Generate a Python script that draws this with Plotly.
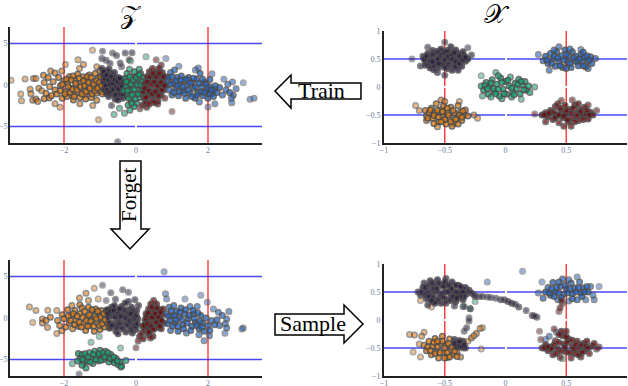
"""Latent space / data space scatter panels with train, forget and sample arrows"""

import plotly.graph_objects as go

ORANGE = '#e07a10'
DARK = '#2a1a40'
TEAL = '#0fa874'
RED = '#6e0508'
BLUE = '#1f64c8'

# Top left panel, latent space after training
z_orange = [(-3.47, .56), (-3.08, .73), (-3.2, -1.1), (-3.18, -1.9), (-2.94, -.5), (-2.85, .77), (-2.78, .77),
            (-2.92, -1.05), (-2.87, -1.85), (-2.78, -1.7), (-2.73, -2), (-2.57, 1.17), (-2.37, 1.7), (-2.25, 1.45),
            (-2.06, 1.7), (-1.96, 2.46), (-2.11, -2.7), (-2.25, -2.25), (-1.61, 3.06), (-1.46, 2.46), (-1.21, 4.2),
            (-1.04, -4.2), (-1.2, -2.46), (-1.56, -2.25), (-1.09, -1.85), (-1.57, 2), (-1.09, 2.2), (-2.55, -1.65),
            (-2.41, -1.57), (-2.7, -.4), (-2.62, -.7), (-2.55, .3), (-2.5, -1), (-2.44, .9), (-2.4, -.2), (-2.35, -1.3),
            (-2.3, .4), (-2.25, -.6), (-2.2, -1.1), (-2.15, .9), (-2.1, -.1), (-2.05, -1.6), (-2, .5), (-1.97, -.8),
            (-1.92, -1.4), (-1.9, .2), (-1.85, 1), (-1.82, -.4), (-1.78, -1.2), (-1.74, -1.8), (-1.7, .6), (-1.66, -.1),
            (-1.62, 1.3), (-1.6, -.9), (-1.56, -1.5), (-1.52, .3), (-1.48, 1), (-1.45, -.5), (-1.42, -1.2), (-1.38, .7),
            (-1.34, -.1), (-1.3, 1.2), (-1.27, -.8), (-1.24, -1.5), (-1.2, .4), (-1.17, -.4), (-1.13, 1.4), (-1.1, -1),
            (-1.06, .8), (-1.03, -.2), (-1, 1.7), (-.97, -.8), (-.94, .5), (-.92, -.3), (-1.75, 1.1), (-1.4, -1.7),
            (-2.1, -.7), (-2.05, .1), (-1.98, -1.1), (-1.93, .7), (-1.88, -.2), (-1.83, -.9), (-1.8, .6), (-1.76, -.5),
            (-1.72, -1.4), (-1.68, .2), (-1.64, -.6), (-1.58, .8), (-1.54, -.2), (-1.5, -1.1), (-1.46, .5), (-1.43, -.1),
            (-1.39, -.8), (-1.36, 1), (-1.32, .3), (-1.28, -.4), (-1.25, .9), (-1.22, -1.1), (-1.18, .1), (-1.14, -.7),
            (-1.1, .5), (-1.07, -.4), (-1.02, .3), (-.98, 1), (-.96, -.1), (-.93, -1.1)]
z_dark = [(-.93, 4.07), (-.65, 3.87), (-.54, 3.55), (-.3, 3.87), (-.11, 3.9), (-.95, 3.2), (-.83, 3), (-.72, 2.6),
          (-.44, 2.66), (-.19, 3.06), (-.4, 2.2), (-.68, -2.46), (-.51, -6.85), (-.95, 2), (-.92, 1.2), (-.9, .4),
          (-.88, -.5), (-.85, 1.7), (-.83, -1), (-.8, .9), (-.78, .1), (-.76, -1.4), (-.72, 1.4), (-.7, -.4),
          (-.68, .5), (-.65, -1.1), (-.62, 1), (-.6, -.1), (-.58, -1.7), (-.55, .3), (-.52, -.8), (-.5, .9),
          (-.47, -1.3), (-.44, 0), (-.42, .6), (-.4, -.6), (-.37, -1.6), (-.35, .2), (-.32, -1), (-.3, .7),
          (-.28, -.3), (-.25, -1.3), (-.23, .2), (-.75, 1.9), (-.6, 1.5), (-.5, -1.8), (-.2, -.8),
          (-.9, 1.6), (-.87, .8), (-.85, -.1), (-.82, 1.2), (-.8, -.6), (-.77, .5), (-.74, -.9), (-.72, .1), (-.69, 1),
          (-.67, -.7), (-.64, .2), (-.62, -.5), (-.59, .6), (-.57, -1.2), (-.54, -.3), (-.51, .4), (-.48, -.5), (-.45, .8),
          (-.43, -1.1), (-.41, .1), (-.38, -.2), (-.36, -1.1), (-.33, .4), (-.31, -.5), (-.28, .3), (-.26, -.8), (-.24, -.1)]
z_teal = [(-.15, 2.9), (.28, 3.4), (-.61, -3.55), (-.46, -2.8), (-.32, -3.4), (-.17, -3.06), (.09, 1.9), (-.3, .8),
          (-.28, -.2), (-.25, 1.4), (-.22, -1.2), (-.2, .3), (-.18, 1.9), (-.15, -.6), (-.13, -1.8), (-.1, .9),
          (-.08, -.1), (-.05, 1.6), (-.03, -1.1), (0, .4), (.02, -2.2), (.04, 1.1), (.06, -.5), (.08, -1.5),
          (.1, .6), (.13, 1.4), (.15, -.1), (.17, -1), (.2, .9), (-.22, -2.4), (-.05, -2.6), (-.35, -.7),
          (-.27, .4), (-.24, -.7), (-.2, -1.6), (-.17, 1), (-.14, .1), (-.11, -1.2), (-.08, .6), (-.05, -.5), (-.02, -1.7),
          (.01, .9), (.03, 0), (.06, -1.1), (.09, 1.2), (.12, .1), (.15, -.7), (.18, .4), (-.12, -2.2)]
z_red = [(.56, 3.06), (.7, 2.4), (1, -3.2), (.11, -2.86), (.18, -2.4), (.2, -.8), (.22, -1.6), (.25, .2), (.27, -2.1),
         (.3, 1), (.32, -.3), (.34, -1.2), (.37, 1.6), (.39, .5), (.41, -.8), (.43, -1.8), (.46, 2), (.48, .9),
         (.5, -.2), (.52, -1.3), (.55, 1.5), (.57, .3), (.59, -.7), (.61, -1.9), (.64, 2), (.66, .8), (.68, -.2),
         (.7, -1.2), (.73, 1.5), (.75, .4), (.77, -.6), (.8, -1.6), (.82, 1), (.84, 0), (.3, -2.7), (.6, -2.3),
         (.24, -.4), (.28, -1.5), (.31, .4), (.35, -.7), (.38, 1), (.42, .1), (.45, -1.1), (.47, 1.4), (.51, .4),
         (.54, -.8), (.56, 1), (.6, -.1), (.63, -1.3), (.65, 1.4), (.69, .3), (.72, -.6), (.76, 1), (.79, -.1), (.5, -2.1), (.37, -2.3)]
z_blue = [(.83, 3.2), (1.19, 2.26), (1.73, 2.06), (2.11, 1.37), (2.05, .65), (2.44, .69), (2.68, .36), (2.98, .28),
          (2.78, -.44), (3.17, -1.73), (3.28, -1.6), (2.66, -2.14), (2.19, -2.26), (2, -2.66), (1.76, -2.05),
          (2.7, -1.25), (.88, .5), (.92, -.6), (.96, 1.5), (1, -1.2), (1.03, .2), (1.07, 1.8), (1.1, -.4), (1.14, .9),
          (1.18, -1.3), (1.22, .1), (1.26, 1.1), (1.3, -.7), (1.34, .5), (1.38, -1.6), (1.42, -.1), (1.46, .9),
          (1.5, -1), (1.55, .3), (1.6, -.4), (1.64, -1.6), (1.68, .7), (1.72, -.9), (1.78, 1.4), (1.82, -.2), (1.86, -1.3),
          (1.9, .3), (1.95, -.7), (2, -1.6), (2.06, -.2), (2.12, -1), (2.18, -.5), (2.25, -.9), (2.32, -.3), (2.4, -1.2),
          (2.5, -.6), (2.6, -.9), (2.65, -1.6), (2.55, .1), (1.65, 1.8),
          (.9, .9), (.95, .1), (1, 1), (1.05, -.9), (1.1, .5), (1.15, -.1), (1.2, -.8), (1.25, .6), (1.3, -.2), (1.35, -1),
          (1.4, .7), (1.45, -.6), (1.5, .2), (1.55, -1.4), (1.6, .8), (1.65, -.2), (1.7, -1.2), (1.75, .2), (1.8, -.8),
          (1.85, .7), (1.9, -.9), (1.95, .1), (2, -.4), (2.05, -1.1), (2.1, -.6), (2.15, -1.4), (2.2, -.1)]

# Top right panel, data space after training
x_dark = [(-.5, .8), (-.77, .5), (-.64, .71), (-.31, .7), (-.28, .57), (-.45, .72), (-.56, .26), (-.39, .3), (-.5, .21),
          (-.7, .375), (-.68, .55), (-.66, .47), (-.64, .6), (-.63, .4), (-.61, .52), (-.6, .65), (-.58, .44), (-.57, .58),
          (-.55, .35), (-.54, .5), (-.52, .63), (-.51, .41), (-.49, .55), (-.48, .33), (-.46, .47), (-.45, .62), (-.43, .39),
          (-.42, .54), (-.4, .44), (-.39, .6), (-.37, .5), (-.36, .37), (-.34, .56), (-.33, .46), (-.31, .5), (-.59, .31),
          (-.44, .3), (-.53, .68), (-.41, .66), (-.62, .34), (-.66, .39), (-.35, .63),
          (-.67, .5), (-.65, .55), (-.62, .46), (-.6, .58), (-.59, .38), (-.56, .5), (-.56, .64), (-.53, .42), (-.53, .57),
          (-.5, .48), (-.5, .62), (-.5, .35), (-.47, .55), (-.47, .4), (-.44, .5), (-.44, .58), (-.41, .45), (-.41, .36),
          (-.38, .55), (-.38, .42), (-.35, .48), (-.33, .53), (-.6, .45), (-.55, .42), (-.48, .65), (-.42, .61)]
x_blue = [(.27, .58), (.74, .51), (.36, .3), (.68, .33), (.44, .72), (.62, .67), (.31, .47), (.33, .55), (.35, .42),
          (.37, .6), (.39, .5), (.41, .37), (.42, .63), (.44, .45), (.46, .56), (.47, .35), (.49, .66), (.51, .44),
          (.52, .56), (.54, .35), (.55, .63), (.57, .46), (.58, .55), (.6, .38), (.62, .58), (.63, .45), (.65, .53),
          (.66, .36), (.68, .46), (.7, .54), (.71, .42), (.53, .68), (.4, .66), (.64, .62), (.5, .33),
          (.34, .48), (.38, .42), (.4, .55), (.43, .52), (.45, .38), (.48, .48), (.5, .58), (.53, .42), (.56, .52),
          (.59, .46), (.61, .5), (.64, .38), (.67, .56), (.69, .48)]
x_teal = [(-.08, .26), (-.2, .2), (.24, 0), (.13, -.22), (-.19, -.16), (-.03, -.21), (-.2, .02), (-.18, -.06), (-.16, .08),
          (-.14, -.13), (-.13, .01), (-.11, .13), (-.09, -.08), (-.07, .05), (-.05, -.16), (-.04, .16), (-.02, -.04),
          (0, .1), (.01, -.13), (.03, .02), (.04, .18), (.06, -.09), (.08, .07), (.09, -.03), (.11, .14), (.12, -.12),
          (.14, .03), (.16, .1), (.17, -.06), (.19, .02), (.2, -.1), (-.12, -.18), (.05, -.18), (-.06, .2),
          (-.17, .03), (-.15, -.03), (-.12, .07), (-.1, -.03), (-.06, -.04), (-.03, .08), (-.01, -.12), (.02, .12),
          (.05, -.02), (.07, -.14), (.1, .05), (.13, .1), (.15, -.05), (-.08, -.12)]
x_orange = [(-.74, -.33), (-.71, -.42), (-.23, -.56), (-.26, -.5), (-.53, -.23), (-.38, -.26), (-.65, -.6), (-.56, -.71),
            (-.66, -.42), (-.65, -.52), (-.63, -.46), (-.61, -.38), (-.6, -.56), (-.58, -.47), (-.57, -.3), (-.55, -.62),
            (-.54, -.41), (-.52, -.52), (-.51, -.33), (-.49, -.66), (-.48, -.45), (-.46, -.56), (-.45, -.36), (-.43, -.65),
            (-.42, -.47), (-.4, -.55), (-.39, -.33), (-.37, -.44), (-.36, -.6), (-.34, -.5), (-.33, -.41), (-.31, -.52),
            (-.5, -.26), (-.44, -.7), (-.59, -.65), (-.39, -.66),
            (-.64, -.56), (-.62, -.41), (-.59, -.51), (-.56, -.42), (-.55, -.54), (-.52, -.44), (-.5, -.58), (-.47, -.5),
            (-.45, -.62), (-.43, -.42), (-.41, -.58), (-.38, -.5), (-.36, -.54), (-.35, -.43), (-.53, -.62), (-.48, -.38)]
x_red = [(.24, -.48), (.75, -.42), (.55, -.23), (.46, -.24), (.33, -.62), (.68, -.32), (.54, -.7), (.3, -.5), (.33, -.46),
         (.35, -.53), (.37, -.42), (.39, -.58), (.41, -.35), (.42, -.5), (.44, -.64), (.46, -.43), (.47, -.55), (.49, -.33),
         (.5, -.48), (.52, -.62), (.53, -.4), (.55, -.55), (.57, -.32), (.58, -.47), (.6, -.6), (.61, -.4), (.63, -.52),
         (.65, -.36), (.66, -.48), (.68, -.57), (.7, -.45), (.72, -.5), (.43, -.3), (.6, -.3), (.48, -.7),
         (.32, -.5), (.36, -.47), (.4, -.45), (.41, -.55), (.44, -.5), (.45, -.38), (.48, -.52), (.5, -.42), (.51, -.58),
         (.54, -.47), (.56, -.38), (.57, -.62), (.59, -.52), (.62, -.44), (.64, -.58), (.67, -.42), (.69, -.5)]

# Bottom left panel, latent space after forgetting
f_orange = [(-2.96, 1.34), (-2.78, .9), (-2.45, .93), (-2.87, -.53), (-2.6, -.12), (-2.46, -1.14), (-2.2, -1.87), (-2.06, -1.54),
            (-1.57, 2.4), (-1.39, 3), (-1.16, 3.6), (-1.32, 2.1), (-1.05, 2.3), (-1.78, 1.5), (-1.56, 1.6), (-2.6, -.6),
            (-2.5, -.3), (-2.38, .1), (-2.2, .9), (-2.18, -.3), (-2.12, -.9), (-2.05, .4), (-2, -.1), (-1.95, -1.1), (-1.9, 1),
            (-1.85, -.6), (-1.8, .3), (-1.76, -1.3), (-1.7, .9), (-1.66, -.3), (-1.6, -1), (-1.55, .5), (-1.5, 1.2), (-1.45, -.6),
            (-1.4, -1.5), (-1.36, .1), (-1.32, 1.3), (-1.28, -.9), (-1.24, .6), (-1.2, -.2), (-1.16, -1.6), (-1.12, 1.1),
            (-1.08, -.6), (-1.04, .3), (-1, -1.4), (-.96, .9), (-.92, -.3), (-.88, -1.1), (-.84, .4), (-.8, -.6), (-.75, -1.2), (-.72, .8),
            (-1.88, .2), (-1.82, -.3), (-1.74, .5), (-1.7, -.8), (-1.63, .2), (-1.58, -.5), (-1.52, -1.1), (-1.48, .1), (-1.43, .8),
            (-1.38, -.3), (-1.34, -1), (-1.3, .4), (-1.26, -.4), (-1.22, 1), (-1.18, -1), (-1.14, .2), (-1.1, -.1), (-1.06, .8),
            (-1.02, -.9), (-.98, .1), (-.94, -.7), (-.9, .5), (-.86, -.2), (-.82, .9)]
f_dark = [(-.93, 3.94), (-.7, 3.05), (-.83, 2.1), (-.57, 2.27), (-.37, 3.4), (-.21, 3.1), (-.21, 2), (-.03, 2.2), (-1.58, -6.75),
          (-.8, 1), (-.76, 0), (-.72, -1.2), (-.68, 1.3), (-.64, .3), (-.6, -.6), (-.56, -1.6), (-.52, 1), (-.48, -.1), (-.44, -1),
          (-.4, 1.4), (-.36, .4), (-.32, -.5), (-.28, -1.7), (-.24, 1), (-.2, 0), (-.16, -.9), (-.12, 1.3), (-.08, .4), (-.04, -.6),
          (0, -1.4), (.02, .9), (.05, -.1), (-.5, -1.9), (-.3, 1.8), (-.1, -1.8), (.07, 1.5),
          (-.78, .5), (-.74, -.6), (-.7, .8), (-.66, -.9), (-.62, .9), (-.58, .1), (-.54, -1.1), (-.5, .5), (-.46, -.6), (-.42, .2),
          (-.38, -1.3), (-.34, .9), (-.3, 0), (-.26, -.9), (-.22, .5), (-.18, -.4), (-.14, -1.4), (-.1, .8), (-.06, -.1), (-.02, -1),
          (.01, .3), (.04, -.7), (-.6, 1.5), (-.45, 1.1), (-.15, .5)]
f_teal = [(-1.25, -2.93), (-1.02, -2.24), (-1.77, -5.53), (-1.6, -4.27), (-.43, -3.62), (-.28, -5.12), (-1.39, -6.02), (-.4, -5.8),
          (-1.55, -4.9), (-1.5, -4.4), (-1.45, -5.4), (-1.4, -4.7), (-1.35, -5.2), (-1.3, -4.2), (-1.25, -4.9), (-1.2, -5.5),
          (-1.15, -4), (-1.1, -4.6), (-1.05, -5.2), (-1, -3.9), (-.95, -4.5), (-.9, -5), (-.85, -4), (-.8, -4.6), (-.75, -5.3),
          (-.7, -4.4), (-.65, -5), (-.6, -5.4), (-.55, -4.9), (-.5, -5.6), (-.45, -5.3), (-.42, -5.9), (-1.5, -5.7), (-1.62, -5.2),
          (-1.48, -5), (-1.42, -4.3), (-1.33, -4.7), (-1.27, -5.3), (-1.18, -4.4), (-1.12, -5), (-1.03, -4.3), (-.97, -5.1),
          (-.92, -4.2), (-.87, -4.7), (-.78, -4.2), (-.72, -4.9), (-.62, -4.7), (-.52, -5.2)]
f_red = [(0, -3.6), (.06, -2.77), (.1, -2.2), (.16, -1.8), (.18, -1), (.2, -2.5), (.24, -1.4), (.25, -.3), (.28, .5), (.3, -1.1),
         (.33, -2), (.35, 1.1), (.37, -.2), (.39, -1.4), (.41, 1.7), (.43, .6), (.45, -.7), (.47, -2.2), (.49, 2.1), (.5, 1),
         (.52, -.1), (.55, -1.2), (.57, 1.7), (.6, .4), (.62, -.8), (.65, 1), (.67, -.2), (.7, -1.3), (.73, .4), (.75, 1.1), (.78, -.6), (.4, -2.4),
         (.22, -.9), (.27, -.1), (.3, .3), (.32, -.7), (.34, .6), (.36, -1.7), (.4, .1), (.42, -1), (.44, 1.3), (.46, .1), (.48, -1.4),
         (.53, .5), (.56, -.5), (.58, 1.2), (.63, .1), (.66, -1), (.68, .7), (.71, -.3)]
f_blue = [(.78, 5.57), (.82, 2.93), (.85, 2.3), (1.36, 2.3), (1.8, 2.76), (1.98, 1.9), (2.15, 1.1), (2.58, .77), (2.29, .7), (2.52, -.12),
          (2.98, -1.2), (2.94, -1.34), (2.47, -1.83), (2.04, -2.15), (1.89, -2.76), (1.75, -2.03), (.85, .5), (.88, -.7), (.92, 1.3),
          (.96, -1.5), (1, .2), (1.05, 1.5), (1.08, -.6), (1.12, .8), (1.17, -1.6), (1.2, .1), (1.25, 1.2), (1.3, -.8), (1.35, .5),
          (1.4, -1.8), (1.45, -.1), (1.5, 1.4), (1.55, -1), (1.6, .5), (1.65, -.5), (1.7, 1.4), (1.75, -1.3), (1.8, .3), (1.85, -.6),
          (1.9, -1.6), (1.95, 0), (2, -.9), (2.05, -1.5), (2.1, -.3), (2.18, -.8), (2.25, -.2), (2.32, -.9), (2.4, .3), (2.48, -.7), (2.52, -1.2),
          (.9, .2), (.94, -.3), (.98, .9), (1.02, -1), (1.07, .3), (1.12, -.2), (1.16, -1), (1.22, .7), (1.27, -.2), (1.32, -1.3),
          (1.38, 1), (1.42, -.6), (1.48, .3), (1.52, -1.5), (1.58, .9), (1.62, -.1), (1.68, -.9), (1.72, .6), (1.78, -.4), (1.83, -1.1)]

# Bottom right panel, data space sampled from the latent space
s_dark = [(-.34, .24), (-.29, .2), (-.3, .04), (-.3, -.02), (-.32, -.14), (-.34, -.2), (-.42, -.35), (-.38, -.42), (-.35, -.38),
          (-.33, -.5), (-.4, -.48), (-.72, .5), (-.7, .44), (-.68, .58), (-.67, .66), (-.65, .38), (-.64, .52), (-.62, .7), (-.61, .45),
          (-.6, .33), (-.58, .6), (-.57, .5), (-.56, .72), (-.54, .4), (-.53, .3), (-.52, .63), (-.5, .5), (-.49, .74), (-.48, .36),
          (-.46, .57), (-.45, .43), (-.44, .68), (-.42, .5), (-.41, .33), (-.39, .62), (-.38, .45), (-.36, .55), (-.35, .36),
          (-.33, .58), (-.32, .47), (-.3, .53), (-.28, .48), (-.26, .45), (-.64, .27), (-.42, .25),
          (-.69, .5), (-.66, .45), (-.66, .58), (-.63, .62), (-.63, .42), (-.6, .55), (-.6, .66), (-.59, .4), (-.56, .56), (-.56, .35),
          (-.55, .65), (-.53, .47), (-.51, .6), (-.51, .4), (-.5, .68), (-.49, .3), (-.47, .5), (-.47, .63), (-.45, .35), (-.44, .56),
          (-.43, .42), (-.41, .62), (-.4, .5), (-.4, .38), (-.37, .6), (-.37, .48), (-.35, .5), (-.34, .42), (-.58, .3), (-.61, .35),
          (-.38, -.46), (-.36, -.48), (-.42, -.42), (-.38, -.38), (-.34, -.44)]
s_tail = [(-.25, .42), (-.22, .42), (-.19, .42), (-.15, .41), (-.12, .4), (-.08, .39), (-.04, .36), (-.01, .36), (.02, .33), (.05, .3),
          (.08, .28), (.11, .23), (.17, .17), (.22, .08), (.26, .05), (.24, .07), (-.37, .42), (-.4, .4)]
s_orange = [(-.79, -.26), (-.75, -.27), (-.67, -.22), (-.69, -.29), (-.71, -.43), (-.76, -.57), (-.7, -.66), (-.2, -.52), (-.19, -.14),
            (-.21, -.15), (-.24, -.24), (-.28, -.32), (-.31, -.38), (-.26, -.28), (-.61, .23), (-.7, .35), (-.67, -.45), (-.65, -.55),
            (-.63, -.38), (-.61, -.62), (-.6, -.47), (-.58, -.33), (-.57, -.56), (-.55, -.68), (-.54, -.42), (-.52, -.29), (-.51, -.58),
            (-.49, -.44), (-.48, -.67), (-.46, -.34), (-.45, -.53), (-.43, -.62), (-.42, -.44), (-.4, -.57), (-.38, -.36), (-.37, -.66), (-.35, -.5),
            (-.64, -.48), (-.62, -.55), (-.59, -.4), (-.58, -.6), (-.56, -.48), (-.54, -.58), (-.52, -.38), (-.5, -.5), (-.48, -.58),
            (-.47, -.42), (-.44, -.48), (-.42, -.56), (-.4, -.65), (-.56, -.38), (-.5, -.68), (-.46, -.66)]
s_teal = [(-.25, .33), (-.29, .2), (-.35, .24), (.47, -.69)]
s_blue = [(.14, .87), (-.15, .68), (.3, .68), (.77, .6), (.59, .77), (.27, .48), (.31, .39), (.73, .36), (.36, -.29), (.33, -.35),
          (.42, -.22), (.33, .5), (.35, .58), (.37, .44), (.39, .67), (.41, .5), (.43, .36), (.45, .6), (.47, .73), (.48, .46), (.5, .56),
          (.52, .34), (.54, .66), (.55, .47), (.57, .57), (.59, .36), (.61, .68), (.62, .48), (.64, .57), (.66, .36), (.68, .5), (.7, .6),
          (.72, .44), (.44, .68), (.52, .72),
          (.36, .48), (.38, .56), (.4, .42), (.42, .58), (.44, .48), (.46, .4), (.49, .62), (.51, .48), (.53, .56), (.55, .38), (.58, .5),
          (.6, .58), (.63, .42), (.65, .5), (.67, .6)]
s_red = [(.44, .15), (.45, .22), (.47, .3), (.46, .35), (-.39, .43), (.28, -.2), (.4, -.16), (.77, -.48), (.29, -.35), (.3, -.5),
         (.33, -.44), (.35, -.55), (.37, -.48), (.39, -.62), (.41, -.37), (.43, -.52), (.45, -.67), (.47, -.28), (.48, -.43), (.5, -.57),
         (.52, -.34), (.54, -.68), (.55, -.47), (.57, -.6), (.59, -.38), (.6, -.52), (.62, -.66), (.64, -.42), (.65, -.55), (.67, -.38),
         (.69, -.6), (.71, -.47), (.73, -.42), (.75, -.52), (.5, -.2), (.46, -.2),
         (.32, -.5), (.35, -.48), (.38, -.52), (.4, -.44), (.42, -.6), (.44, -.4), (.46, -.56), (.49, -.49), (.51, -.4), (.53, -.58),
         (.55, -.36), (.56, -.52), (.58, -.44), (.6, -.62), (.62, -.45), (.63, -.58), (.66, -.47), (.68, -.5), (.44, -.26), (.5, -.3)]

x_ticks_left = [-2, 0, 2]
y_ticks_left = [-5, 0, 5]
ticks_right = [-1, -0.5, 0, 0.5, 1]
red_left = [-2, 2]
blue_left = [-5, 5]
red_right = [-0.5, 0.5]
blue_right = [-0.5, 0.5]

W, H = 628, 386

panels = [
    dict(ax='', px=(10, 262), py=(27, 143), rng=3.5, yrng=7, xt=x_ticks_left, yt=y_ticks_left, red=red_left, blue=blue_left, yoff=-1,
         series=[(z_orange, ORANGE), (z_dark, DARK), (z_teal, TEAL), (z_red, RED), (z_blue, BLUE)]),
    dict(ax='2', px=(384, 627), py=(31, 143), rng=1, yrng=1, xt=ticks_right, yt=ticks_right, red=red_right, blue=blue_right, yoff=0,
         series=[(x_dark, DARK), (x_blue, BLUE), (x_teal, TEAL), (x_orange, ORANGE), (x_red, RED)]),
    dict(ax='3', px=(10, 262), py=(260, 376), rng=3.5, yrng=7, xt=x_ticks_left, yt=y_ticks_left, red=red_left, blue=blue_left, yoff=-1,
         series=[(f_orange, ORANGE), (f_dark, DARK), (f_teal, TEAL), (f_red, RED), (f_blue, BLUE)]),
    dict(ax='4', px=(384, 627), py=(264, 376), rng=1, yrng=1, xt=ticks_right, yt=ticks_right, red=red_right, blue=blue_right, yoff=0,
         series=[(s_orange, ORANGE), (s_teal, TEAL), (s_blue, BLUE), (s_red, RED), (s_dark, DARK), (s_tail, DARK)]),
]


def to_x(px):
    return px / W


def to_y(py):
    return 1 - py / H


def arrow_path(points):
    parts = [f"{'M' if i == 0 else 'L'}{to_x(x):.4f},{to_y(y):.4f}" for i, (x, y) in enumerate(points)]
    return ' '.join(parts) + ' Z'


def crowd_opacity(pts, rx, ry):
    # typed points stand in for a much denser cloud, so crowded ones get heavier
    result = []
    for a, b in pts:
        near = sum(1 for c, d in pts if ((a - c) / rx) ** 2 + ((b - d) / ry) ** 2 < 1)
        result.append(min(0.8, 0.42 + 0.06 * near))
    return result


fig = go.Figure()
layout = {}
shapes = []

for p in panels:
    xname, yname = 'x' + p['ax'], 'y' + p['ax']
    for pts, color in p['series']:
        fig.add_trace(go.Scatter(
            x=[a for a, b in pts],
            y=[b for a, b in pts],
            mode='markers',
            xaxis=xname,
            yaxis=yname,
            showlegend=False,
            marker=dict(size=5.5, color=color, opacity=crowd_opacity(pts, p['rng'] * 0.07, p['yrng'] * 0.14),
                        line=dict(color='#4a4a4a', width=1.5))
        ))
    axis_style = dict(
        automargin=False, showgrid=False, zeroline=True, zerolinecolor='white', zerolinewidth=2,
        showline=True, linecolor='#222222', linewidth=2, ticks='',
        tickfont=dict(family='Liberation Serif', size=8, color='#6b7a99')
    )
    layout['xaxis' + p['ax']] = dict(
        domain=[to_x(p['px'][0]), to_x(p['px'][1])], range=[-p['rng'], p['rng']], tickvals=p['xt'],
        anchor=yname, ticklabelstandoff=-2, **axis_style
    )
    layout['yaxis' + p['ax']] = dict(
        domain=[to_y(p['py'][1]), to_y(p['py'][0])], range=[-p['yrng'], p['yrng']], tickvals=p['yt'],
        anchor=xname, ticklabelstandoff=p['yoff'], **axis_style
    )
    for v in p['red']:
        shapes.append(dict(type='line', layer='below', xref=xname, yref=yname, x0=v, x1=v, y0=-p['yrng'], y1=p['yrng'],
                           line=dict(color='rgba(255,30,30,0.85)', width=1.5)))
    for v in p['blue']:
        shapes.append(dict(type='line', layer='below', xref=xname, yref=yname, x0=-p['rng'], x1=p['rng'], y0=v, y1=v,
                           line=dict(color='rgba(40,40,240,0.85)', width=1.5)))

# Block arrows between the panels
arrows = [
    [(275, 91), (291, 75), (291, 83), (361, 83), (361, 99), (291, 99), (291, 108)],
    [(120, 161), (141, 161), (141, 229), (149, 229), (130, 249), (111, 229), (120, 229)],
    [(275, 314), (344, 314), (344, 305), (363, 324), (344, 343), (344, 335), (275, 335)],
]
for pts in arrows:
    shapes.append(dict(type='path', xref='paper', yref='paper', path=arrow_path(pts),
                       fillcolor='white', line=dict(color='black', width=1.5)))

labels = [
    ('Train', 321, 91, 0, 22),
    ('Forget', 129, 195, -90, 21),
    ('Sample', 313, 323, 0, 22),
    ('𝒵', 130, 14, 0, 26),
    ('𝒳', 497, 14, 0, 26),
]
annotations = [
    dict(text=t, x=to_x(x), y=to_y(y), xref='paper', yref='paper', showarrow=False, textangle=a,
         xanchor='center', yanchor='middle',
         font=dict(family='Liberation Serif', size=s, color='black'))
    for t, x, y, a, s in labels
]

fig.update_layout(
    width=W,
    height=H,
    margin=dict(l=0, r=0, t=0, b=0),
    plot_bgcolor='white',
    paper_bgcolor='white',
    shapes=shapes,
    annotations=annotations,
    **layout
)

fig.write_html("out.html", config={'displayModeBar': False}, post_script="document.body.style.margin='0';")
